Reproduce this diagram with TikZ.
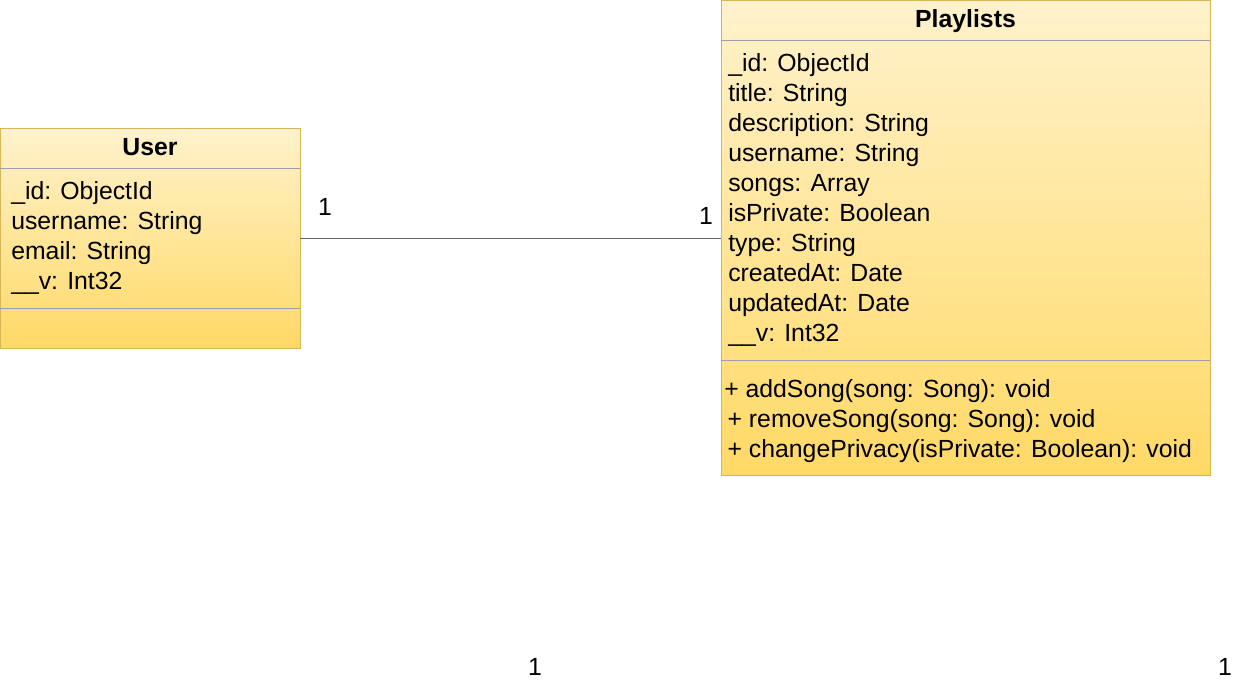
\documentclass[tikz,border=0pt]{standalone}
\usepackage{fontspec}
\setmainfont{Liberation Sans}
\definecolor{fillTop}{HTML}{FFF2CC}
\definecolor{fillBot}{HTML}{FFD966}
\definecolor{boxStroke}{HTML}{D6B656}
\definecolor{sepLine}{HTML}{9A9FB0}
\definecolor{edgeGray}{HTML}{666666}
\begin{document}
\begin{tikzpicture}[x=0.75pt,y=-0.75pt,
  umlbox/.style={draw=boxStroke, line width=0.75pt, top color=fillTop, bottom color=fillBot, inner sep=0pt, outer sep=0pt},
  sepline/.style={draw=sepLine, line width=0.75pt},
  titletext/.style={font=\fontsize{18.6pt}{22.5pt}\selectfont\bfseries, inner sep=0pt, anchor=base},
  attrtext/.style={font=\fontsize{18.6pt}{22.5pt}\selectfont, align=left, inner sep=0pt, anchor=base west},
  multlabel/.style={font=\fontsize{18.6pt}{22.5pt}\selectfont, inner sep=0pt, anchor=base},
  edgeline/.style={draw=edgeGray, line width=0.75pt}]
\useasboundingbox (0,0) rectangle (1241,686);
% User class
\node[umlbox, minimum width=225pt, minimum height=165pt] (user) at (150,238) {};
\draw[sepline] (user.west |- 0,168) -- (user.east |- 0,168);
\draw[sepline] (user.west |- 0,308) -- (user.east |- 0,308);
\node[titletext] (usertitle) at (150,155) {User};
% anchor = baseline of the last line
\node[attrtext] (userattr) at (11,289) {\_id: ObjectId\\username: String\\email: String\\\_\_v: Int32};
% Playlists class
\node[umlbox, minimum width=366.75pt, minimum height=356.25pt] (pl) at (965.5,237.5) {};
\draw[sepline] (pl.west |- 0,40) -- (pl.east |- 0,40);
\draw[sepline] (pl.west |- 0,360) -- (pl.east |- 0,360);
\node[titletext] (pltitle) at (965.5,27) {Playlists};
\node[attrtext] (plattr) at (728,341) {\_id: ObjectId\\title: String\\description: String\\username: String\\songs: Array\\isPrivate: Boolean\\type: String\\createdAt: Date\\updatedAt: Date\\\_\_v: Int32};
\node[attrtext] (plmeth) at (724,457) {+ addSong(song: Song): void\\\hspace{2.5pt}+ removeSong(song: Song): void\\\hspace{2.5pt}+ changePrivacy(isPrivate: Boolean): void};
% association
\draw[edgeline] (user.east) -- (user.east -| pl.west);
\node[multlabel] (m1) at (325,215) {1};
\node[multlabel] (m2) at (706,224) {1};
\node[multlabel] (m3) at (535,675) {1};
\node[multlabel] (m4) at (1225,675) {1};
\end{tikzpicture}
\end{document}
